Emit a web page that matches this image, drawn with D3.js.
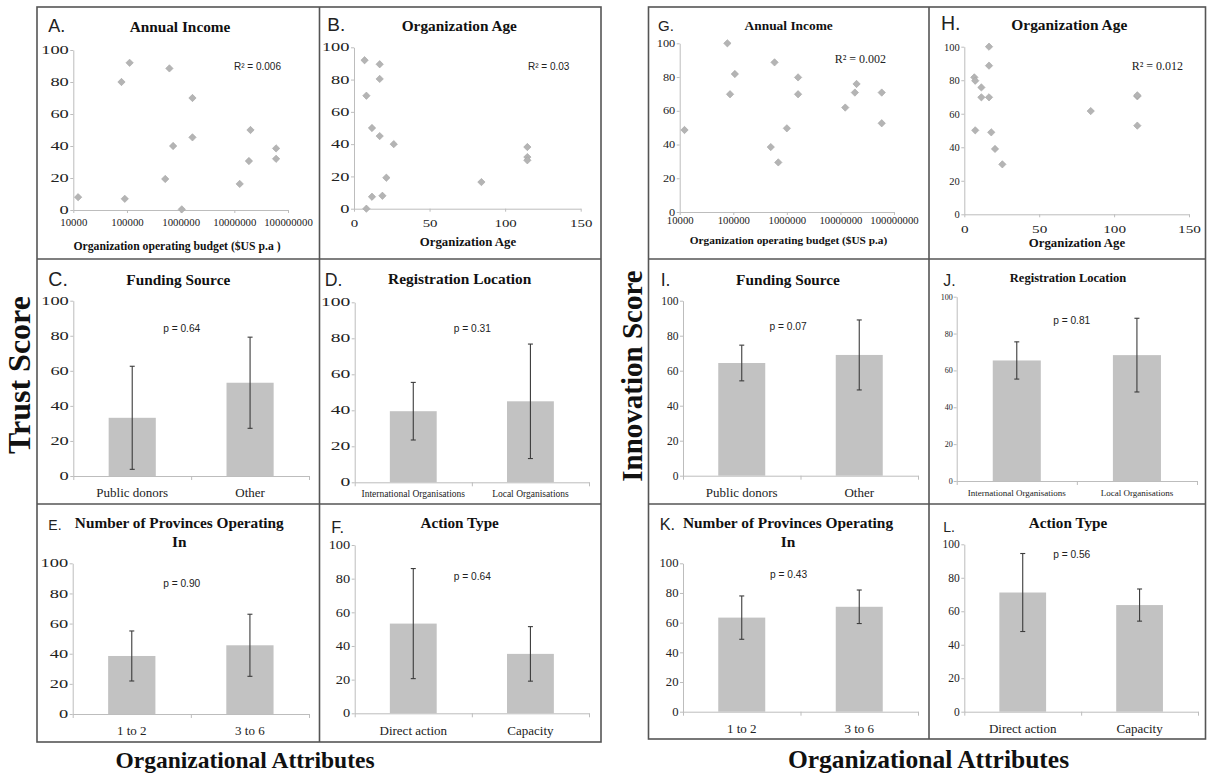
<!DOCTYPE html>
<html><head><meta charset="utf-8">
<script src="https://cdn.jsdelivr.net/npm/d3@7/dist/d3.min.js"></script>
<style>body{margin:0;background:#fff}</style>
</head><body>
<svg id="c" width="1211" height="775"></svg>
<script>
// ---------------- DATA ----------------
const yTicks = [0, 20, 40, 60, 80, 100];
const budgetTicks = [10000, 100000, 1000000, 10000000, 100000000];
const ageTicks = [0, 50, 100, 150];

// Trust score vs annual income (A)
const budgetA = [12300, 79000, 112000, 91000, 617000, 1660000, 1660000, 724000, 516000, 1050000, 12600000, 18700000, 20000000, 60000000, 60000000];
const trustA  = [8, 80, 92, 7, 88.5, 70, 45.4, 40, 19.4, 0.4, 16.3, 30.6, 50, 38.5, 32];
// Trust score vs organization age (B)
const ageB   = [7, 17, 17, 8.2, 11.9, 17, 26.3, 21.4, 11.9, 18.8, 8.2, 84.3, 114.7, 114.7, 114.7];
const trustB = [92, 89.5, 80.4, 70, 50, 45, 40, 19.2, 7.4, 8, 0, 16.5, 38.2, 32, 30];
// Innovation score vs annual income (G)
const budgetG = [12300, 77600, 87000, 107000, 589000, 501000, 692000, 1000000, 1620000, 1620000, 12300000, 18600000, 20000000, 59000000, 59000000];
const innovG  = [48.6, 100, 69.8, 81.8, 88.7, 38.5, 29.4, 49.6, 79.8, 69.8, 61.9, 70.8, 75.9, 70.8, 52.6];
// Innovation score vs organization age (H)
const ageH   = [16.5, 16.5, 6.7, 7.3, 11.4, 11.4, 16.5, 7.3, 18, 20.5, 25.4, 84.4, 115.5, 115.5, 115.5];
const innovH = [100, 88.7, 81.7, 79.7, 75.7, 69.8, 69.8, 50.1, 48.9, 39, 29.8, 61.6, 70.4, 71, 52.9];

const r2Labels = { A: "R² = 0.006", B: "R² = 0.03", G: "R² = 0.002", H: "R² = 0.012" };

// Categories
const catFunding   = ["Public donors", "Other"];
const catLocation  = ["International Organisations", "Local Organisations"];
const catProvinces = ["1 to 2", "3 to 6"];
const catAction    = ["Direct action", "Capacity"];

// Trust score means and SD
const trustFundingMean   = [33.2, 53.2];
const trustFundingSD     = [29.4, 26];
const trustLocationMean  = [39.5, 45];
const trustLocationSD    = [16, 31.8];
const trustProvincesMean = [38.5, 45.6];
const trustProvincesSD   = [16.6, 20.6];
const trustActionMean    = [53.3, 35.3];
const trustActionSD      = [32.7, 16.2];
// Innovation score means and SD
const innovFundingMean   = [64.4, 69];
const innovFundingSD     = [10.2, 20];
const innovLocationMean  = [65.4, 68.3];
const innovLocationSD    = [10.1, 20];
const innovProvincesMean = [63.4, 70.7];
const innovProvincesSD   = [14.6, 11.3];
const innovActionMean    = [71.2, 63.7];
const innovActionSD      = [23.3, 9.6];

const pLabels = { C: "p = 0.64", D: "p = 0.31", E: "p = 0.90", F: "p = 0.64",
                  I: "p = 0.07", J: "p = 0.81", K: "p = 0.43", L: "p = 0.56" };

// ---------------- DRAWING ----------------
const SERIF = "'Liberation Serif','Times New Roman',serif";
const SANS = "'Liberation Sans',Arial,sans-serif";
const svg = d3.select("#c");
const AX = "#bdbdbd";

function txt(x, y, s, o) {
  return svg.append("text").attr("x", x).attr("y", y)
    .attr("font-family", o.ff || SERIF).attr("font-size", o.fs)
    .attr("font-weight", o.fw || "normal").attr("text-anchor", o.anchor || "middle")
    .attr("fill", o.fill || "#111").text(s);
}
function styleAxis(a) {
  a.attr("font-family", SERIF);
  a.select(".domain").attr("stroke", AX).attr("stroke-width", 1);
  a.selectAll(".tick line").attr("stroke", AX);
  a.selectAll(".tick text").attr("fill", "#222").attr("font-family", SERIF);
}
function yAxis(y, c) {
  const a = svg.append("g").attr("transform", `translate(${c.x0},0)`)
    .call(d3.axisLeft(y).tickValues(yTicks).tickSize(3).tickSizeOuter(0));
  styleAxis(a);
  const sx = c.ySx || 1;
  a.selectAll(".tick text").attr("font-size", c.yFs || 11.5)
    .attr("x", -(c.yGap || 4.5) / sx).attr("transform", `scale(${sx},1)`);
  return a;
}
function panelHead(c) {
  txt(c.lx, c.ly, c.letter, { ff: SANS, fs: c.lfs, anchor: "start", fill: "#222" });
  const lines = Array.isArray(c.title) ? c.title : [c.title];
  const tys = Array.isArray(c.ty) ? c.ty : [c.ty];
  lines.forEach((t, i) => txt(c.tx, tys[i], t, { fs: c.tfs, fw: "bold" }));
}

function scatterPanel(c, xs, ys) {
  panelHead(c);
  const x = c.log ? d3.scaleLog().domain([1e4, 1e8]).range([c.x0, c.x1])
                  : d3.scaleLinear().domain([0, 150]).range([c.x0, c.x1]);
  const y = d3.scaleLinear().domain([0, 100]).range([c.yB, c.yT]);
  yAxis(y, c);
  const xa = svg.append("g").attr("transform", `translate(0,${c.yB})`)
    .call(d3.axisBottom(x).tickValues(c.log ? budgetTicks : ageTicks)
      .tickFormat(d3.format("d")).tickSize(3).tickSizeOuter(0));
  styleAxis(xa);
  const sx = c.xSx || 1;
  xa.selectAll(".tick text").attr("font-size", c.xFs).attr("dy", 0)
    .attr("y", c.xBase - c.yB).attr("transform", `scale(${sx},1)`);
  const sym = d3.symbol().type(d3.symbolSquare).size(27);
  svg.append("g").selectAll("path").data(xs.map((d, i) => [d, ys[i]])).join("path")
    .attr("d", sym)
    .attr("transform", d => `translate(${x(d[0])},${y(d[1])}) rotate(45)`)
    .attr("fill", "#b4b4b4").attr("stroke", "#a6a6a6").attr("stroke-width", 0.6);
  txt(c.xtx, c.xty, c.xTitle, { fs: c.xtfs, fw: "bold" });
  txt(c.r2x, c.r2y, c.r2, { ff: c.r2ff, fs: c.r2fs, anchor: "start", fill: "#222" });
}

function barPanel(c, cats, means, sds) {
  panelHead(c);
  const xb = d3.scaleBand().domain(cats).range([c.x0, c.x1]).paddingInner(0.6).paddingOuter(0.3);
  const y = d3.scaleLinear().domain([0, 100]).range([c.yB, c.yT]);
  yAxis(y, c);
  // boundary ticks + axis line
  const xl = d3.scaleLinear().domain([0, cats.length]).range([c.x0, c.x1]);
  const xa = svg.append("g").attr("transform", `translate(0,${c.yB})`)
    .call(d3.axisBottom(xl).tickValues(d3.range(cats.length + 1)).tickFormat("").tickSize(4).tickSizeOuter(0));
  styleAxis(xa);
  // category labels
  const la = svg.append("g").attr("transform", `translate(0,${c.yB})`)
    .call(d3.axisBottom(xb).tickSize(0));
  la.select(".domain").remove();
  la.attr("font-family", SERIF);
  la.selectAll(".tick text").attr("font-size", c.catFs).attr("fill", "#222").attr("font-family", SERIF)
    .attr("dy", 0).attr("y", c.catBase - c.yB);
  // bars
  svg.append("g").selectAll("rect").data(cats).join("rect")
    .attr("x", d => xb(d)).attr("width", xb.bandwidth())
    .attr("y", (d, i) => y(means[i])).attr("height", (d, i) => c.yB - y(means[i]))
    .attr("fill", "#c2c2c2");
  // error bars
  const eg = svg.append("g").attr("stroke", "#3c3c3c").attr("stroke-width", 1.1);
  cats.forEach((d, i) => {
    const cx = xb(d) + xb.bandwidth() / 2;
    const hi = y(means[i] + sds[i]), lo = y(means[i] - sds[i]);
    eg.append("line").attr("x1", cx).attr("x2", cx).attr("y1", hi).attr("y2", lo);
    eg.append("line").attr("x1", cx - 2.5).attr("x2", cx + 2.5).attr("y1", hi).attr("y2", hi);
    eg.append("line").attr("x1", cx - 2.5).attr("x2", cx + 2.5).attr("y1", lo).attr("y2", lo);
  });
  txt(c.px, c.py, c.p, { ff: SANS, fs: 10.2, fill: "#222" });
}

// ---- panel borders ----
const bg = svg.append("g").attr("stroke", "#555").attr("stroke-width", 1.6).attr("fill", "none");
bg.append("rect").attr("x", 37).attr("y", 7).attr("width", 564).attr("height", 735);
bg.append("line").attr("x1", 319.5).attr("x2", 319.5).attr("y1", 7).attr("y2", 742);
bg.append("line").attr("x1", 37).attr("x2", 601).attr("y1", 259).attr("y2", 259);
bg.append("line").attr("x1", 37).attr("x2", 601).attr("y1", 504).attr("y2", 504);
bg.append("rect").attr("x", 648.5).attr("y", 7).attr("width", 557).attr("height", 732);
bg.append("line").attr("x1", 929).attr("x2", 929).attr("y1", 7).attr("y2", 739);
bg.append("line").attr("x1", 648.5).attr("x2", 1205.5).attr("y1", 259).attr("y2", 259);
bg.append("line").attr("x1", 648.5).attr("x2", 1205.5).attr("y1", 504).attr("y2", 504);

// ---- scatter panels ----
scatterPanel({ letter: "A.", lx: 48.3, ly: 32, lfs: 18, title: "Annual Income", tx: 180, ty: 32, tfs: 15.3,
  x0: 73.3, x1: 288, yT: 50, yB: 210, log: true, xFs: 10.8, xBase: 226, ySx: 1.6,
  xTitle: "Organization operating budget ($US p.a )", xtx: 177, xty: 249.5, xtfs: 11.7,
  r2: r2Labels.A, r2x: 234, r2y: 70, r2ff: SANS, r2fs: 10 }, budgetA, trustA);
scatterPanel({ letter: "B.", lx: 327.3, ly: 31, lfs: 19, title: "Organization Age", tx: 459.3, ty: 31, tfs: 15.3,
  x0: 354, x1: 580.7, yT: 47.3, yB: 208.7, log: false, xFs: 11, xSx: 1.35, xBase: 227, ySx: 1.6,
  xTitle: "Organization Age", xtx: 468, xty: 246, xtfs: 12.8,
  r2: r2Labels.B, r2x: 528, r2y: 70, r2ff: SANS, r2fs: 10 }, ageB, trustB);
scatterPanel({ letter: "G.", lx: 658, ly: 31, lfs: 15, title: "Annual Income", tx: 788.7, ty: 30, tfs: 13.4,
  x0: 679.7, x1: 894, yT: 43.3, yB: 212, log: true, xFs: 9.6, xSx: 1.12, xBase: 224.5, yFs: 9.5, ySx: 1.3,
  xTitle: "Organization operating budget ($US p.a)", xtx: 788.5, xty: 244, xtfs: 11.3,
  r2: r2Labels.G, r2x: 834.7, r2y: 63, r2ff: SERIF, r2fs: 12 }, budgetG, innovG);
scatterPanel({ letter: "H.", lx: 941, ly: 30, lfs: 19.5, title: "Organization Age", tx: 1069.3, ty: 30, tfs: 15.4,
  x0: 964.3, x1: 1189, yT: 46.7, yB: 214.3, log: false, xFs: 10.5, xSx: 1.45, xBase: 233, yFs: 10.5, ySx: 1,
  xTitle: "Organization Age", xtx: 1077, xty: 247, xtfs: 12.8,
  r2: r2Labels.H, r2x: 1131.7, r2y: 70, r2ff: SERIF, r2fs: 12 }, ageH, innovH);

// ---- bar panels ----
barPanel({ letter: "C.", lx: 48.3, ly: 286, lfs: 19.5, title: "Funding Source", tx: 178.3, ty: 285, tfs: 15.3,
  x0: 73.3, x1: 309, yT: 300.7, yB: 476, catFs: 13, catBase: 497, ySx: 1.6,
  p: pLabels.C, px: 181.7, py: 332 }, catFunding, trustFundingMean, trustFundingSD);
barPanel({ letter: "D.", lx: 324.7, ly: 286, lfs: 17.7, title: "Registration Location", tx: 459.7, ty: 284, tfs: 15.4,
  x0: 354.7, x1: 589, yT: 302.3, yB: 482.3, catFs: 9.5, catBase: 497, ySx: 1.7,
  p: pLabels.D, px: 472.3, py: 331.5 }, catLocation, trustLocationMean, trustLocationSD);
barPanel({ letter: "E.", lx: 48.3, ly: 530, lfs: 14, title: ["Number of Provinces Operating", "In"], tx: 179.3, ty: [528, 547], tfs: 15.3,
  x0: 72.7, x1: 309, yT: 563.3, yB: 714, catFs: 13, catBase: 735, ySx: 1.6,
  p: pLabels.E, px: 181.7, py: 587 }, catProvinces, trustProvincesMean, trustProvincesSD);
barPanel({ letter: "F.", lx: 331.3, ly: 533, lfs: 16.3, title: "Action Type", tx: 459.7, ty: 528, tfs: 15.2,
  x0: 354.7, x1: 589, yT: 545, yB: 713.3, catFs: 13, catBase: 735, ySx: 1.25,
  p: pLabels.F, px: 472.3, py: 580 }, catAction, trustActionMean, trustActionSD);

barPanel({ letter: "I.", lx: 660.7, ly: 286, lfs: 17.7, title: "Funding Source", tx: 788, ty: 285, tfs: 15.3,
  x0: 683, x1: 918, yT: 300.7, yB: 475.7, catFs: 13, catBase: 497, ySx: 1,
  p: pLabels.I, px: 788, py: 330 }, catFunding, innovFundingMean, innovFundingSD);
barPanel({ letter: "J.", lx: 943.3, ly: 285.7, lfs: 15.8, title: "Registration Location", tx: 1068, ty: 282, tfs: 12.5,
  x0: 956.7, x1: 1197, yT: 296.7, yB: 481, catFs: 9, catBase: 496, yFs: 8, ySx: 1, yGap: 4,
  p: pLabels.J, px: 1071.7, py: 323.5 }, catLocation, innovLocationMean, innovLocationSD);
barPanel({ letter: "K.", lx: 659.7, ly: 530, lfs: 16.3, title: ["Number of Provinces Operating", "In"], tx: 788, ty: [528, 547], tfs: 15.4,
  x0: 683, x1: 918, yT: 563.3, yB: 711.7, catFs: 13, catBase: 733, ySx: 1.1,
  p: pLabels.K, px: 788.5, py: 578 }, catProvinces, innovProvincesMean, innovProvincesSD);
barPanel({ letter: "L.", lx: 943.3, ly: 532, lfs: 14, title: "Action Type", tx: 1068, ty: 528, tfs: 15.2,
  x0: 964.3, x1: 1198, yT: 544.3, yB: 711.7, catFs: 13, catBase: 733, ySx: 1,
  p: pLabels.L, px: 1071.7, py: 558 }, catAction, innovActionMean, innovActionSD);

// ---- big labels ----
svg.append("text").attr("transform", "translate(30,375) rotate(-90)").attr("text-anchor", "middle")
  .attr("font-family", SERIF).attr("font-weight", "bold").attr("font-size", 32).attr("fill", "#111").text("Trust Score");
svg.append("text").attr("transform", "translate(642,376) rotate(-90)").attr("text-anchor", "middle")
  .attr("font-family", SERIF).attr("font-weight", "bold").attr("font-size", 29).attr("fill", "#111").text("Innovation Score");
txt(245, 768, "Organizational Attributes", { fs: 23.5, fw: "bold" });
txt(928.5, 768, "Organizational Attributes", { fs: 25.5, fw: "bold" });
</script>
</body></html>
